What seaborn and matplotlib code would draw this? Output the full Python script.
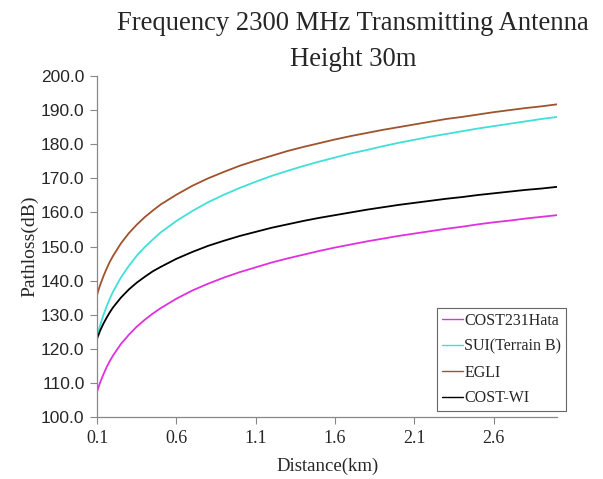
import numpy as np
import pandas as pd
import matplotlib
matplotlib.use("Agg")
import matplotlib.pyplot as plt
import seaborn as sns

distance_km = [0.1, 0.11, 0.12, 0.14, 0.16, 0.18, 0.2, 0.25, 0.3, 0.35, 0.4, 0.45, 0.5,
               0.6, 0.7, 0.8, 0.9, 1.0,
               1.1, 1.2, 1.3, 1.4, 1.5, 1.6, 1.7, 1.8, 1.9, 2.0,
               2.1, 2.2, 2.3, 2.4, 2.5, 2.6, 2.7, 2.8, 2.9, 3.0]

cost231_hata = [107.4, 108.9, 110.2, 112.5, 114.6, 116.4, 118.0, 121.4, 124.1, 126.5, 128.5, 130.3, 131.9,
                134.7, 137.1, 139.1, 140.9, 142.5,
                143.9, 145.3, 146.5, 147.6, 148.7, 149.7, 150.6, 151.5, 152.3, 153.1,
                153.8, 154.5, 155.2, 155.8, 156.5, 157.1, 157.6, 158.2, 158.7, 159.2]
sui_terrain_b = [123.5, 125.3, 127.0, 129.9, 132.4, 134.7, 136.7, 140.9, 144.3, 147.3, 149.8, 152.0, 154.1,
                 157.5, 160.4, 163.0, 165.2, 167.2,
                 169.0, 170.7, 172.2, 173.6, 174.9, 176.1, 177.3, 178.3, 179.4, 180.4,
                 181.3, 182.2, 183.0, 183.8, 184.6, 185.3, 186.0, 186.7, 187.4, 188.0]
egli = [135.8, 137.4, 138.8, 141.3, 143.5, 145.5, 147.2, 150.9, 153.9, 156.4, 158.6, 160.5, 162.3,
        165.2, 167.8, 170.0, 171.9, 173.7,
        175.2, 176.6, 178.0, 179.2, 180.3, 181.4, 182.4, 183.3, 184.2, 185.0,
        185.8, 186.6, 187.4, 188.0, 188.7, 189.4, 190.0, 190.6, 191.1, 191.7]
cost_wi = [123.0, 124.2, 125.4, 127.4, 129.1, 130.7, 132.1, 135.0, 137.4, 139.4, 141.1, 142.7, 144.0,
           146.4, 148.4, 150.2, 151.7, 153.1,
           154.3, 155.5, 156.5, 157.5, 158.4, 159.2, 160.0, 160.8, 161.5, 162.2,
           162.8, 163.4, 164.0, 164.5, 165.1, 165.6, 166.1, 166.6, 167.0, 167.5]

series_names = ["COST231Hata", "SUI(Terrain B)", "EGLI", "COST-WI"]
series_colors = ["#E030E0", "#40E0D8", "#A0522D", "#000000"]
x_ticks = [0.1, 0.6, 1.1, 1.6, 2.1, 2.6]
x_tick_labels = ["0.1", "0.6", "1.1", "1.6", "2.1", "2.6"]
y_ticks = [100, 110, 120, 130, 140, 150, 160, 170, 180, 190, 200]

frames = []
for name, vals in zip(series_names, [cost231_hata, sui_terrain_b, egli, cost_wi]):
    frames.append(pd.DataFrame({"Distance": distance_km, "Pathloss": vals, "Model": name}))
df = pd.concat(frames, ignore_index=True)

sns.set_style("white")
serif = ["Liberation Serif", "DejaVu Serif"]
sans = ["Liberation Sans", "DejaVu Sans"]

fig = plt.figure(figsize=(6.03, 4.79), dpi=100)
ax = fig.add_axes([0.161, 0.1294, 0.763, 0.7119])

sns.lineplot(data=df, x="Distance", y="Pathloss", hue="Model", hue_order=series_names,
             palette=dict(zip(series_names, series_colors)), linewidth=1.3, ax=ax,
             legend=False, estimator=None)

ax.set_xlim(0.1, 3.0)
ax.set_ylim(100, 200)
ax.set_xticks(x_ticks)
ax.set_xticklabels(x_tick_labels, fontfamily=serif, fontsize=13)
ax.set_yticks(y_ticks)
ax.set_yticklabels([f"{v:.1f}" for v in y_ticks], fontfamily=sans, fontsize=12.5)
ax.tick_params(axis="both", direction="out", length=5, width=0.8, color="#888888",
               bottom=True, left=True, pad=4)
for side in ["top", "right"]:
    ax.spines[side].set_visible(False)
for side in ["left", "bottom"]:
    ax.spines[side].set_color("#888888")
    ax.spines[side].set_linewidth(0.9)

ax.set_xlabel("Distance(km)", fontfamily=serif, fontsize=13.5, labelpad=8)
ax.set_ylabel("Pathloss(dB)", fontfamily=serif, fontsize=14, labelpad=2)

fig.text(0.585, 0.950, "Frequency 2300 MHz Transmitting Antenna", ha="center", va="center",
         fontfamily=serif, fontsize=19.2)
fig.text(0.585, 0.876, "Height 30m", ha="center", va="center",
         fontfamily=serif, fontsize=19.2)

handles = [plt.Line2D([0], [0], color=c, lw=1.0) for c in series_colors]
leg = ax.legend(handles, series_names, loc="upper left",
                bbox_to_anchor=(437 / 603, 1 - 308 / 479), bbox_transform=fig.transFigure,
                prop={"family": serif, "size": 11.5}, handlelength=1.35, handletextpad=0.05,
                borderpad=0.3, labelspacing=0.62, fancybox=False, framealpha=1,
                borderaxespad=0)
leg.get_frame().set_edgecolor("#666666")
leg.get_frame().set_linewidth(0.8)

fig.savefig("out.png", dpi=100)
